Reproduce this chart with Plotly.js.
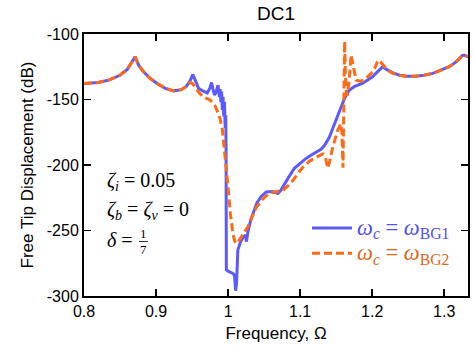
<!DOCTYPE html>
<html>
<head>
<meta charset="utf-8">
<script src="https://cdn.plot.ly/plotly-3.0.1.min.js"></script>
<style>html,body{margin:0;padding:0;background:#fff;}#chart{width:473px;height:347px;}</style>
</head>
<body>
<div id="chart"></div>
<script>
// Series 1: omega_c = omega_BG1
var freqBG1 = [0.800,0.820,0.835,0.850,0.860,0.866,0.871,0.876,0.883,0.892,0.902,0.913,0.925,0.935,0.942,0.947,0.951,0.955,0.959,0.965,0.971,0.975,0.977,0.979,0.981,0.983,0.986,0.988,0.989,0.990,0.991,0.992,0.993,0.994,0.995,0.996,0.9968,0.9972,0.9976,1.000,1.004,1.0075,1.009,1.0105,1.0118,1.0135,1.017,1.021,1.024,1.0255,1.0275,1.031,1.035,1.040,1.046,1.053,1.062,1.069,1.073,1.078,1.085,1.092,1.100,1.107,1.115,1.122,1.129,1.134,1.1407,1.146,1.1546,1.1615,1.168,1.175,1.187,1.200,1.208,1.2146,1.220,1.228,1.238,1.247,1.260,1.272,1.284,1.296,1.307,1.316,1.3254,1.328,1.333];
var dispBG1 = [-137.8,-137,-135,-131.5,-127,-122,-117.5,-124,-129,-134,-138,-141.5,-143.4,-142.5,-140,-136,-131,-136,-141.5,-143.5,-145,-141,-137,-142,-146.5,-145,-139,-148,-142,-152,-144,-158,-148,-163,-152,-172,-162,-188,-280,-281,-282,-283,-285,-296,-290,-265,-259,-255,-253.5,-258.5,-251,-243,-236.5,-229,-224,-220.5,-220.2,-221.8,-219.5,-214.5,-208.5,-202.5,-198.5,-195.5,-192.5,-190.5,-188,-185,-178.7,-171,-158.2,-149.3,-142.9,-140.2,-137.6,-132.8,-128.5,-125,-127,-129.5,-131.5,-132.2,-132.2,-131.5,-130.1,-127.5,-125,-121.5,-116.3,-116.2,-117.5];

// Series 2: omega_c = omega_BG2
var freqBG2 = [0.800,0.820,0.835,0.850,0.860,0.866,0.871,0.876,0.883,0.892,0.902,0.913,0.925,0.935,0.942,0.947,0.951,0.956,0.961,0.967,0.974,0.978,0.982,0.986,0.989,0.992,0.994,0.9967,1.000,1.0032,1.0068,1.0095,1.0125,1.016,1.0207,1.0276,1.033,1.0392,1.0484,1.055,1.0622,1.070,1.076,1.083,1.0899,1.097,1.1037,1.113,1.1223,1.128,1.1314,1.135,1.1384,1.141,1.1453,1.152,1.1565,1.158,1.1595,1.1605,1.1618,1.1628,1.164,1.1655,1.168,1.1707,1.1735,1.1777,1.183,1.1880,1.194,1.2007,1.2045,1.2080,1.2120,1.2169,1.222,1.228,1.238,1.247,1.260,1.272,1.284,1.296,1.307,1.316,1.3254,1.328,1.333];
var dispBG2 = [-137.8,-137,-135,-131.5,-127,-122,-117.5,-124,-129,-134,-138,-141.5,-143.4,-142.5,-140,-137,-138,-142,-145.5,-148.5,-150,-152,-155,-160,-165,-173,-183,-197,-217,-237,-253,-258.5,-260,-257,-252.7,-247,-240,-232.3,-225.9,-222.5,-220.8,-220,-219.5,-216,-211.9,-206.5,-201.7,-197,-194,-192,-191.5,-194,-202.5,-197,-186.4,-173.6,-168.5,-175,-202,-160,-105.5,-130,-145,-147,-136,-116,-125,-135.2,-136,-135.3,-132.5,-128.9,-125,-120,-121.5,-125,-128,-129.8,-131.5,-132.2,-132.2,-131.5,-130.1,-127.5,-125,-121.5,-116.3,-116.2,-117.5];

var xTicks = [0.8, 0.9, 1, 1.1, 1.2, 1.3];
var xTickText = ['0.8', '0.9', '1', '1.1', '1.2', '1.3'];
var yTicks = [-300, -250, -200, -150, -100];
var yTickText = ['-300', '-250', '-200', '-150', '-100'];

var blue = '#5a5aff';
var orange = '#ff6a14';
var serif = 'Liberation Serif, DejaVu Serif, serif';
var sans = 'Liberation Sans, Arial, sans-serif';

var traces = [
  {x: freqBG1, y: dispBG1, type: 'scatter', mode: 'lines',
   line: {color: blue, width: 3},
   name: '<span style="color:#5050f0;font-size:22.5px"><i>ω<sub>c</sub></i> = <i>ω</i><sub>BG1</sub></span>'},
  {x: freqBG2, y: dispBG2, type: 'scatter', mode: 'lines',
   line: {color: orange, width: 3, dash: '8px,4px'},
   name: '<span style="color:#e0661a;font-size:22.5px"><i>ω<sub>c</sub></i> = <i>ω</i><sub>BG2</sub></span>'}
];

function px2x(px) { return (px - 84) / 384; }
function px2y(py) { return (296 - py) / 262; }

var layout = {
  width: 473, height: 347,
  margin: {l: 84, r: 5, t: 34, b: 51, pad: 0},
  paper_bgcolor: '#fff', plot_bgcolor: '#fff',
  font: {family: sans, size: 16, color: '#000'},
  title: {text: 'DC1', font: {family: sans, size: 19, color: '#000'}, x: 0.5835, xanchor: 'center', y: 0.962, yanchor: 'middle'},
  showlegend: true,
  legend: {x: px2x(307), y: px2y(210.5), xanchor: 'left', yanchor: 'top',
           font: {family: serif, size: 17}, bgcolor: 'rgba(0,0,0,0)', tracegroupgap: 0, itemwidth: 40},
  xaxis: {range: [0.8, 1.333], tickvals: xTicks, ticktext: xTickText,
          showgrid: false, zeroline: false, showline: true, linecolor: '#000', linewidth: 2,
          mirror: 'ticks', ticks: 'inside', ticklen: 7, tickwidth: 1.5, tickcolor: '#000',
          tickfont: {family: sans, size: 16},
          title: {text: 'Frequency, Ω', font: {family: sans, size: 17}, standoff: 8}},
  yaxis: {range: [-300, -100], tickvals: yTicks, ticktext: yTickText,
          showgrid: false, zeroline: false, showline: true, linecolor: '#000', linewidth: 2,
          mirror: 'ticks', ticks: 'inside', ticklen: 7, tickwidth: 1.5, tickcolor: '#000',
          tickfont: {family: sans, size: 16},
          title: {text: 'Free Tip Displacement (dB)', font: {family: sans, size: 17}, standoff: 9}},
  annotations: [
    {xref: 'paper', yref: 'paper', x: px2x(105), y: px2y(181), xanchor: 'left', yanchor: 'middle', showarrow: false,
     text: '<i>ζ<sub>i</sub></i> = 0.05', font: {family: serif, size: 20, color: '#000'}},
    {xref: 'paper', yref: 'paper', x: px2x(105), y: px2y(210), xanchor: 'left', yanchor: 'middle', showarrow: false,
     text: '<i>ζ<sub>b</sub></i> = <i>ζ<sub>v</sub></i> = 0', font: {family: serif, size: 20, color: '#000'}},
    {xref: 'paper', yref: 'paper', x: px2x(105), y: px2y(240), xanchor: 'left', yanchor: 'middle', showarrow: false,
     text: '<i>δ</i> = ', font: {family: serif, size: 20, color: '#000'}},
    {xref: 'paper', yref: 'paper', x: px2x(143.5), y: px2y(234), xanchor: 'center', yanchor: 'middle', showarrow: false,
     text: '1', font: {family: serif, size: 13, color: '#000'}},
    {xref: 'paper', yref: 'paper', x: px2x(143.5), y: px2y(249), xanchor: 'center', yanchor: 'middle', showarrow: false,
     text: '7', font: {family: serif, size: 13, color: '#000'}}
  ],
  shapes: [
    {type: 'line', xref: 'paper', yref: 'paper', x0: px2x(139), x1: px2x(148), y0: px2y(241.5), y1: px2y(241.5),
     line: {color: '#000', width: 0.8}}
  ]
};

Plotly.newPlot('chart', traces, layout, {displayModeBar: false, staticPlot: true});
</script>
</body>
</html>
